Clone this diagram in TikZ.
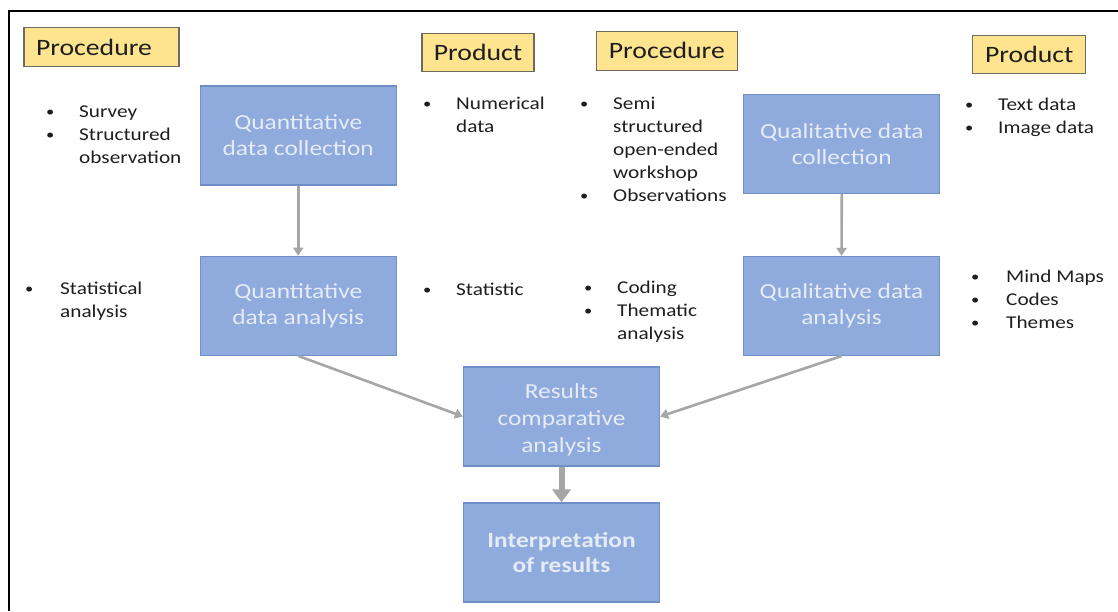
\documentclass[tikz,border=0pt]{standalone}
\usepackage{fontspec}
\setmainfont{Carlito}[FakeStretch=1.18]
\usetikzlibrary{arrows.meta}
\definecolor{boxfill}{HTML}{8FAADC}
\definecolor{boxline}{HTML}{6F8FC9}
\definecolor{boxtext}{HTML}{E6ECF7}
\definecolor{tagfill}{HTML}{FFE490}
\definecolor{tagline}{HTML}{6E6A5E}
\definecolor{arrowgray}{HTML}{A6A6A6}
\definecolor{ink}{HTML}{1E1E1E}
\newcommand\bl[1][29pt]{\llap{\makebox[0pt]{\raisebox{0.5pt}{\fontsize{14}{14}\selectfont\textbullet}}\hspace{#1}}}
\begin{document}
\begin{tikzpicture}[x=1pt,y=-1pt,
  stage/.style={draw=boxline, fill=boxfill, line width=1.2pt, minimum width=196pt, minimum height=99pt, inner sep=0pt, align=center, text=boxtext, font=\fontsize{21.5}{26}\selectfont},
  tag/.style={draw=tagline, fill=tagfill, line width=1.1pt, inner sep=0pt, text=ink, font=\fontsize{23.5}{27}\selectfont},
  blist/.style={anchor=base west, inner sep=0pt, text=ink, font=\fontsize{18}{23}\selectfont},
  flow/.style={draw=arrowgray, line width=2.6pt, -{Triangle[width=10pt,length=8pt]}},
  bigflow/.style={draw=arrowgray, line width=6pt, -{Triangle[width=18pt,length=13pt]}}
]
\useasboundingbox (0,0) rectangle (1118,611);
% frame
\draw[line width=2pt] (9,611) -- (9,11);
\draw[line width=1.3pt] (8,11) -- (1118,11);

% tags
\node[tag, text width=131pt, align=left, inner xsep=12pt, minimum height=39pt] (proc1) at (101.5,47.2) {Procedure};
\node[tag, minimum width=112pt, minimum height=38pt] (prod1) at (478,52.5) {Product};
\node[tag, minimum width=141pt, minimum height=39pt] (proc2) at (666.8,50.8) {Procedure};
\node[tag, minimum width=113pt, minimum height=38pt] (prod2) at (1029.3,54.9) {Product};

% stages
\node[stage] (qnc) at (298.2,135.5) {Quantitative\\data collection};
\node[stage] (qna) at (298.2,305.8) {Quantitative\\data analysis};
\node[stage] (qlc) at (841.8,143.8) {Qualitative data\\collection};
\node[stage] (qla) at (841.5,306) {Qualitative data\\analysis};
\node[stage, font=\fontsize{21.5}{27}\selectfont] (res) at (561.5,416.5) {\raisebox{-4pt}[\height][\depth]{\begin{tabular}{@{}c@{}}Results\\comparative\\analysis\end{tabular}}};
\node[stage, font=\fontsize{21.5}{25.5}\selectfont\bfseries] (int) at (561.5,552.5) {Interpretation\\of results};

% lists
\node[blist] (l1) at (79,117) {\begin{tabular}[t]{@{}l@{}}\bl Survey\\\bl Structured\\observation\end{tabular}};
\node[blist] (l2) at (456,109) {\begin{tabular}[t]{@{}l@{}}\bl Numerical\\data\end{tabular}};
\node[blist] (l3) at (613,109) {\begin{tabular}[t]{@{}l@{}}\bl Semi\\structured\\open-ended\\workshop\\\bl Observations\end{tabular}};
\node[blist] (l4) at (998,110) {\begin{tabular}[t]{@{}l@{}}\bl Text data\\\bl Image data\end{tabular}};
\node[blist] (l5) at (60,294) {\begin{tabular}[t]{@{}l@{}}\bl[31pt]Statistical\\analysis\end{tabular}};
\node[blist] (l6) at (456,295) {\begin{tabular}[t]{@{}l@{}}\bl Statistic\end{tabular}};
\node[blist] (l7) at (617,293) {\begin{tabular}[t]{@{}l@{}}\bl Coding\\\bl Thematic\\analysis\end{tabular}};
\node[blist] (l8) at (1006,282) {\begin{tabular}[t]{@{}l@{}}\bl[31pt]Mind Maps\\\bl[31pt]Codes\\\bl[31pt]Themes\end{tabular}};

% connectors
\draw[flow] (qnc.south) -- (qna.north);
\draw[flow] (qlc.south) -- (qla.north);
\draw[flow] (qna.south) -- (res.west);
\draw[flow] (qla.south) -- (res.east);
\draw[bigflow] (res.south) -- (int.north);
\end{tikzpicture}
\end{document}
